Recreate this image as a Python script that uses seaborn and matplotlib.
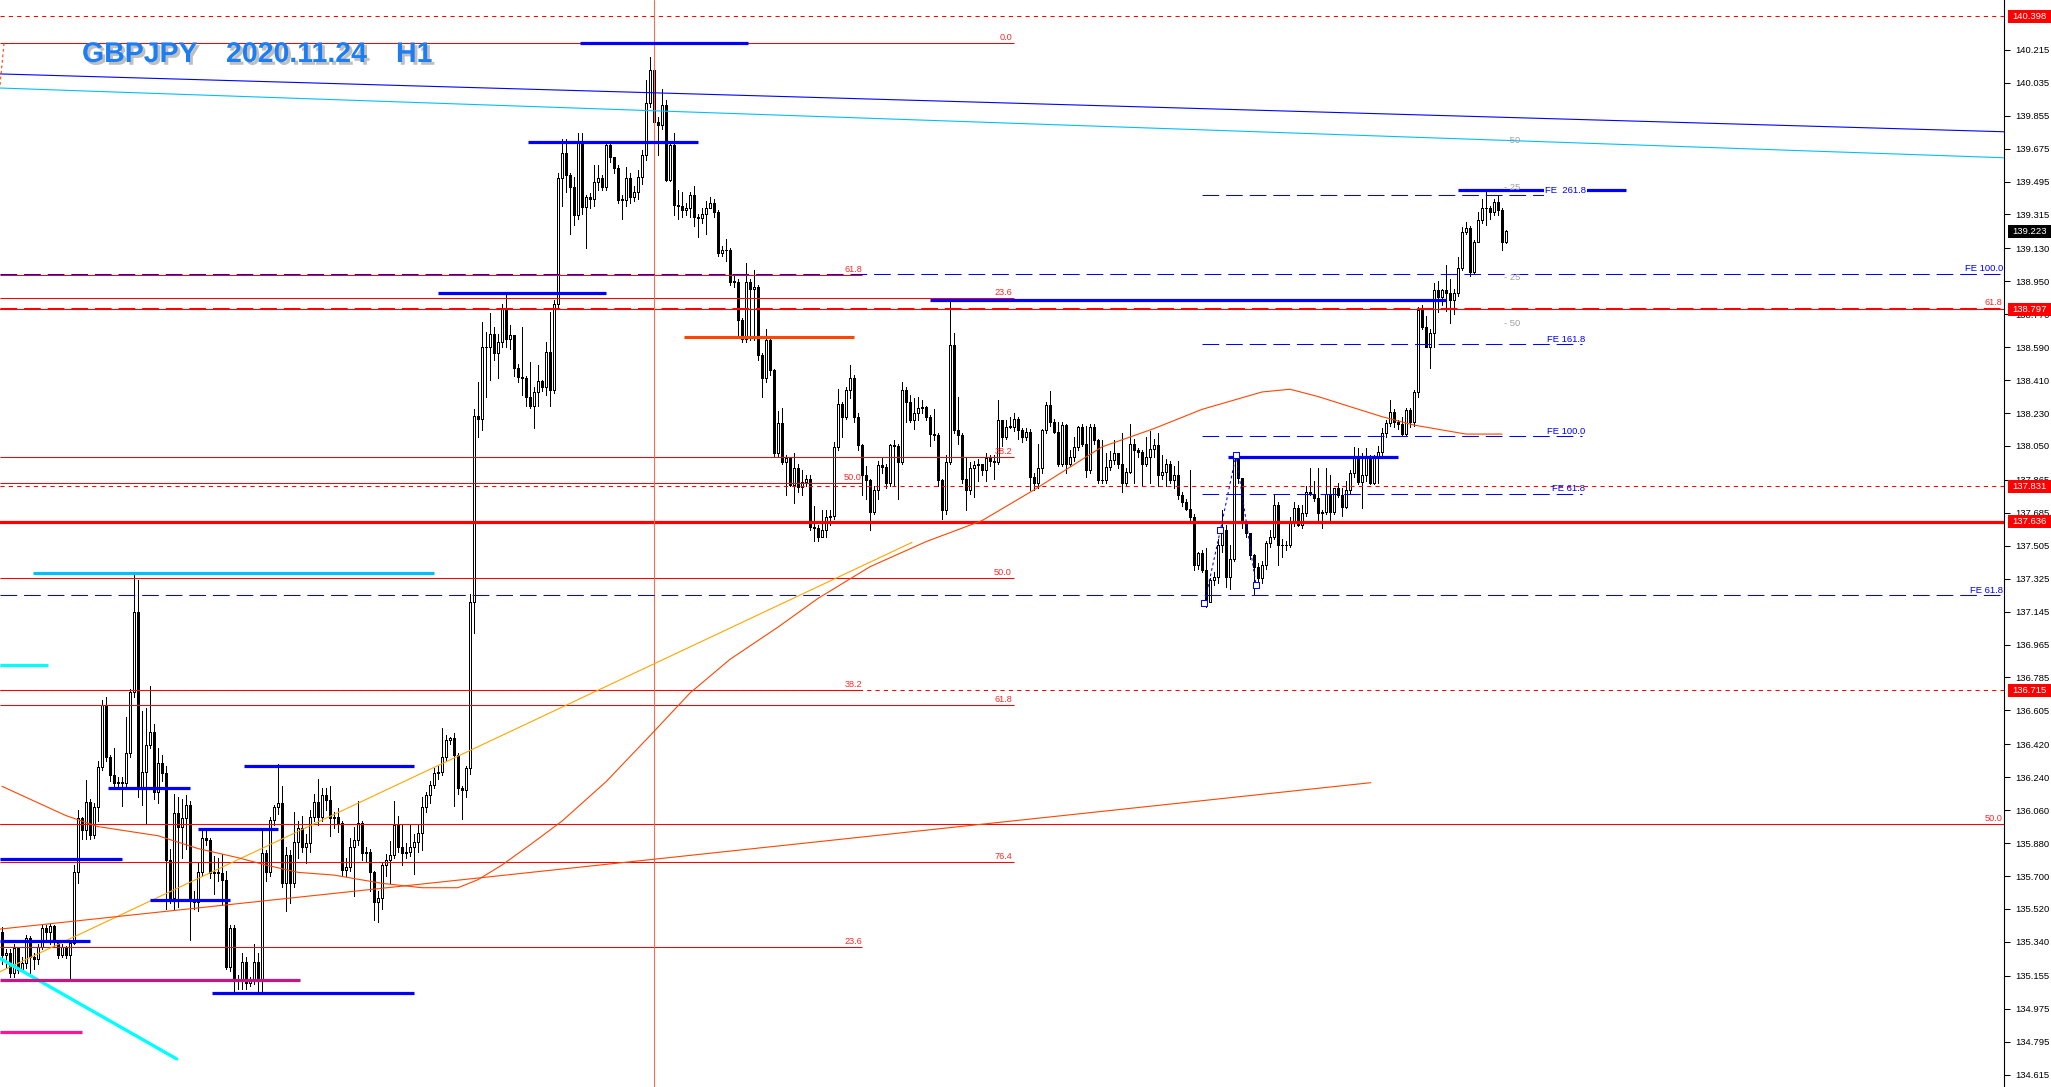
import numpy as np
import pandas as pd
import matplotlib
matplotlib.use('Agg')
import matplotlib.pyplot as plt
import matplotlib.patheffects as pe
from matplotlib.patches import Rectangle
from matplotlib.transforms import blended_transform_factory
import seaborn as sns

sns.set_style('white')
plt.rcParams['font.family'] = ['Liberation Sans', 'DejaVu Sans']
plt.rcParams['lines.scale_dashes'] = False

# --- candles (GBPJPY H1) ---
first_open = 135.395
closes = [
    135.268, 135.277, 135.168, 135.304, 135.186, 135.222, 135.359, 135.259, 135.244, 135.313,
    135.414, 135.395, 135.426, 135.341, 135.268, 135.313, 135.268, 135.332, 135.724, 136.015,
    135.951, 136.106, 135.924, 136.079, 136.297, 136.634, 136.352, 136.252, 136.206, 136.215,
    136.206, 136.370, 136.707, 137.144, 136.179, 136.270, 136.416, 136.489, 136.161, 136.316,
    136.261, 135.787, 135.578, 136.042, 135.970, 136.015, 136.088, 135.569, 135.560, 135.724,
    135.906, 135.897, 135.714, 135.724, 135.714, 135.678, 135.204, 135.414, 135.132, 135.135,
    135.232, 135.113, 135.132, 135.232, 135.132, 135.824, 135.724, 136.006, 136.079, 136.097,
    135.660, 135.815, 135.660, 135.888, 135.961, 135.860, 135.879, 136.024, 136.106, 136.024,
    136.143, 136.115, 136.015, 136.020, 135.988, 135.733, 135.751, 135.860, 135.897, 135.988,
    135.824, 135.833, 135.724, 135.560, 135.578, 135.760, 135.787, 135.815, 135.979, 135.860,
    135.824, 135.833, 135.860, 135.888, 135.934, 136.079, 136.143, 136.197, 136.261, 136.270,
    136.352, 136.443, 136.452, 136.361, 136.179, 136.170, 136.288, 137.199, 138.213, 138.200,
    138.590, 138.590, 138.660, 138.560, 138.618, 138.806, 138.637, 138.656, 138.476, 138.429,
    138.420, 138.316, 138.270, 138.345, 138.407, 138.373, 138.565, 138.354, 138.825, 139.512,
    139.649, 139.531, 139.467, 139.312, 139.713, 139.358, 139.412, 139.400, 139.494, 139.512,
    139.467, 139.695, 139.631, 139.567, 139.394, 139.394, 139.512, 139.412, 139.440, 139.522,
    139.640, 139.922, 140.104, 139.822, 139.804, 139.913, 139.503, 139.695, 139.367, 139.360,
    139.340, 139.350, 139.420, 139.303, 139.294, 139.320, 139.348, 139.376, 139.330, 139.103,
    139.120, 139.120, 138.947, 138.947, 138.737, 138.637, 138.947, 138.910, 138.920, 138.546,
    138.419, 138.628, 138.464, 138.009, 138.173, 137.963, 137.982, 137.836, 137.927, 137.827,
    137.854, 137.872, 137.608, 137.599, 137.553, 137.590, 137.663, 137.670, 138.045, 138.282,
    138.210, 138.355, 138.419, 138.209, 138.054, 137.890, 137.863, 137.690, 137.808, 137.945,
    137.936, 137.845, 138.054, 138.050, 137.963, 138.355, 138.291, 138.191, 138.228, 138.255,
    138.264, 138.209, 138.118, 138.110, 137.863, 137.699, 137.963, 138.600, 138.136, 138.110,
    137.872, 137.808, 137.927, 137.945, 137.954, 137.918, 137.982, 137.970, 137.964, 138.191,
    138.100, 138.155, 138.155, 138.200, 138.136, 138.100, 138.127, 137.881, 137.845, 137.927,
    138.136, 138.273, 138.182, 138.127, 137.954, 138.164, 137.954, 137.990, 138.045, 138.155,
    138.063, 137.918, 138.155, 138.082, 137.863, 137.864, 137.936, 137.972, 138.009, 137.954,
    137.845, 137.908, 138.063, 138.027, 138.018, 137.954, 137.990, 138.036, 138.054, 137.891,
    137.909, 137.954, 137.863, 137.891, 137.781, 137.745, 137.708, 137.663, 137.399, 137.463,
    137.372, 137.200, 137.317, 137.335, 137.508, 137.590, 137.335, 137.435, 137.982, 137.873,
    137.627, 137.572, 137.454, 137.390, 137.326, 137.400, 137.517, 137.554, 137.727, 137.508,
    137.508, 137.508, 137.627, 137.709, 137.618, 137.681, 137.800, 137.790, 137.763, 137.681,
    137.690, 137.790, 137.690, 137.818, 137.782, 137.718, 137.809, 137.900, 137.991, 137.854,
    137.890, 137.990, 137.850, 137.990, 138.018, 138.119, 138.173, 138.237, 138.182, 138.172,
    138.118, 138.246, 138.182, 138.346, 138.792, 138.701, 138.592, 138.665, 138.902, 138.865,
    138.902, 138.884, 138.847, 138.884, 139.020, 139.220, 139.239, 139.002, 139.166, 139.284,
    139.348, 139.348, 139.330, 139.384, 139.339, 139.166, 139.223,
]
highs = [
    135.42, 135.30, 135.30, 135.33, 135.31, 135.26, 135.38, 135.37, 135.28, 135.33,
    135.43, 135.43, 135.44, 135.43, 135.35, 135.33, 135.32, 135.35, 135.76, 136.06,
    136.02, 136.225, 136.12, 136.10, 136.33, 136.66, 136.68, 136.36, 136.40, 136.24,
    136.24, 136.57, 136.72, 137.363, 137.317, 136.60, 136.62, 136.74, 136.53, 136.40,
    136.36, 136.30, 135.85, 136.15, 136.13, 136.12, 136.14, 136.11, 135.62, 135.77,
    135.95, 135.95, 135.91, 135.81, 135.80, 135.82, 135.73, 135.43, 135.43, 135.16,
    135.28, 135.26, 135.15, 135.33, 135.28, 135.95, 135.84, 136.02, 136.09, 136.31,
    136.19, 135.86, 135.84, 136.05, 136.00, 136.03, 135.93, 136.06, 136.15, 136.23,
    136.18, 136.18, 136.19, 136.05, 136.07, 136.00, 135.80, 135.91, 135.97, 136.11,
    136.00, 135.86, 135.85, 135.73, 135.62, 135.77, 135.82, 135.89, 136.11, 136.03,
    135.98, 135.88, 135.98, 135.93, 135.98, 136.13, 136.16, 136.22, 136.29, 136.30,
    136.51, 136.47, 136.46, 136.48, 136.37, 136.19, 136.30, 137.24, 138.25, 138.40,
    138.73, 138.675, 138.778, 138.70, 138.66, 138.825, 138.891, 138.71, 138.61, 138.50,
    138.70, 138.43, 138.51, 138.37, 138.49, 138.41, 138.62, 138.78, 138.85, 139.54,
    139.73, 139.73, 139.54, 139.52, 139.76, 139.76, 139.42, 139.43, 139.585, 139.585,
    139.53, 139.713, 139.71, 139.63, 139.585, 139.42, 139.577, 139.54, 139.47, 139.56,
    139.667, 140.05, 140.177, 140.272, 139.85, 140.00, 139.94, 139.70, 139.76, 139.45,
    139.44, 139.38, 139.44, 139.47, 139.32, 139.35, 139.39, 139.41, 139.40, 139.34,
    139.14, 139.18, 139.13, 138.98, 138.96, 138.75, 139.05, 138.96, 139.01, 138.93,
    138.56, 138.69, 138.64, 138.47, 138.24, 138.26, 138.00, 137.91, 138.01, 137.95,
    137.92, 137.89, 137.89, 137.72, 137.62, 137.70, 137.70, 137.70, 138.07, 138.364,
    138.29, 138.37, 138.49, 138.44, 138.23, 138.06, 137.94, 137.87, 137.83, 137.97,
    137.99, 137.95, 138.06, 138.08, 138.06, 138.40, 138.37, 138.33, 138.31, 138.32,
    138.30, 138.27, 138.22, 138.25, 138.12, 137.87, 138.00, 138.847, 138.67, 138.32,
    138.12, 137.99, 137.96, 137.97, 137.98, 137.95, 138.01, 138.00, 138.00, 138.30,
    138.19, 138.19, 138.21, 138.23, 138.21, 138.15, 138.15, 138.14, 137.90, 138.06,
    138.14, 138.29, 138.35, 138.20, 138.18, 138.18, 138.17, 138.03, 138.10, 138.16,
    138.17, 138.16, 138.17, 138.17, 138.09, 138.08, 138.01, 138.02, 138.08, 138.01,
    138.12, 137.93, 138.17, 138.09, 138.04, 138.03, 138.10, 138.13, 138.09, 138.12,
    138.00, 137.98, 137.97, 137.94, 137.97, 137.80, 137.76, 137.92, 137.68, 137.47,
    137.48, 137.49, 137.33, 137.36, 137.54, 137.70, 137.62, 137.51, 138.00, 138.00,
    137.75, 137.64, 137.55, 137.46, 137.41, 137.42, 137.53, 137.59, 137.79, 137.745,
    137.54, 137.53, 137.66, 137.745, 137.73, 137.73, 137.83, 137.93, 137.86, 137.93,
    137.70, 137.93, 137.89, 137.82, 137.85, 137.82, 137.86, 137.92, 138.046, 138.04,
    138.01, 138.04, 138.00, 138.00, 138.05, 138.15, 138.19, 138.30, 138.25, 138.19,
    138.21, 138.255, 138.255, 138.355, 138.81, 138.82, 138.76, 138.69, 138.94, 138.95,
    138.91, 139.038, 138.96, 138.91, 139.08, 139.248, 139.275, 139.25, 139.175, 139.33,
    139.40, 139.452, 139.36, 139.40, 139.42, 139.35, 139.23,
]
lows = [
    135.22, 135.20, 135.15, 135.15, 135.17, 135.18, 135.20, 135.16, 135.19, 135.22,
    135.30, 135.34, 135.33, 135.32, 135.25, 135.26, 135.25, 135.14, 135.33, 135.66,
    135.90, 135.90, 135.90, 135.91, 136.00, 136.28, 136.33, 136.22, 136.19, 136.18,
    136.08, 136.19, 136.35, 136.68, 136.13, 136.09, 135.99, 136.40, 136.12, 136.10,
    136.22, 135.52, 135.55, 135.52, 135.53, 135.80, 135.85, 135.35, 135.52, 135.51,
    135.70, 135.87, 135.69, 135.60, 135.67, 135.54, 135.19, 135.18, 135.07, 135.08,
    135.08, 135.08, 135.10, 135.11, 135.07, 135.07, 135.67, 135.70, 135.98, 136.04,
    135.64, 135.51, 135.55, 135.64, 135.80, 135.83, 135.77, 135.83, 136.00, 135.98,
    136.00, 136.06, 135.92, 135.96, 135.94, 135.70, 135.70, 135.73, 135.59, 135.87,
    135.79, 135.78, 135.62, 135.46, 135.45, 135.52, 135.70, 135.66, 135.80, 135.83,
    135.76, 135.80, 135.81, 135.71, 135.83, 135.84, 136.05, 136.10, 136.18, 136.23,
    136.25, 136.33, 136.42, 136.08, 136.15, 136.01, 136.13, 136.26, 137.026, 138.10,
    138.137, 138.32, 138.41, 138.52, 138.42, 138.59, 138.59, 138.58, 138.43, 138.40,
    138.33, 138.27, 138.26, 138.147, 138.27, 138.35, 138.33, 138.27, 138.34, 138.80,
    139.36, 139.44, 139.21, 139.26, 139.29, 139.32, 139.13, 139.35, 139.36, 139.45,
    139.45, 139.45, 139.60, 139.54, 139.38, 139.29, 139.36, 139.38, 139.39, 139.40,
    139.48, 139.61, 139.90, 139.622, 139.64, 139.78, 139.50, 139.50, 139.31, 139.29,
    139.30, 139.31, 139.30, 139.25, 139.19, 139.27, 139.21, 139.35, 139.30, 139.09,
    139.09, 139.06, 138.93, 138.92, 138.64, 138.62, 138.62, 138.63, 138.63, 138.52,
    138.32, 138.40, 138.44, 137.99, 137.99, 137.95, 137.78, 137.83, 137.74, 137.80,
    137.78, 137.83, 137.59, 137.53, 137.53, 137.55, 137.55, 137.62, 137.65, 138.03,
    138.10, 138.20, 138.31, 138.18, 138.03, 137.78, 137.76, 137.59, 137.68, 137.76,
    137.90, 137.82, 137.83, 137.83, 137.76, 137.95, 138.18, 138.18, 138.14, 138.19,
    138.23, 138.19, 138.05, 138.08, 137.83, 137.65, 137.68, 137.95, 138.12, 138.06,
    137.85, 137.70, 137.79, 137.77, 137.86, 137.89, 137.86, 137.94, 137.87, 137.95,
    138.05, 138.09, 138.15, 138.13, 138.09, 138.07, 138.08, 137.81, 137.81, 137.82,
    137.90, 138.12, 138.16, 138.12, 137.94, 137.94, 137.90, 137.94, 137.97, 138.03,
    138.05, 137.88, 137.90, 138.06, 137.845, 137.85, 137.85, 137.92, 137.95, 137.93,
    137.80, 137.83, 137.90, 137.845, 137.99, 137.83, 137.94, 137.85, 137.99, 137.83,
    137.87, 137.83, 137.85, 137.82, 137.76, 137.72, 137.70, 137.64, 137.372, 137.38,
    137.36, 137.171, 137.20, 137.29, 137.30, 137.47, 137.28, 137.27, 137.42, 137.85,
    137.60, 137.55, 137.43, 137.235, 137.30, 137.30, 137.38, 137.50, 137.54, 137.40,
    137.445, 137.48, 137.50, 137.61, 137.61, 137.60, 137.67, 137.78, 137.75, 137.635,
    137.60, 137.68, 137.64, 137.68, 137.77, 137.67, 137.71, 137.79, 137.88, 137.84,
    137.71, 137.86, 137.84, 137.84, 137.85, 138.00, 138.10, 138.16, 138.155, 138.14,
    138.11, 138.11, 138.155, 138.16, 138.32, 138.69, 138.59, 138.474, 138.59, 138.78,
    138.82, 138.79, 138.72, 138.77, 138.87, 139.01, 139.21, 138.98, 138.99, 139.166,
    139.27, 139.26, 139.29, 139.31, 139.31, 139.12, 139.16,
]

# moving average (candle index, price)
ma_idx = [0, 16, 24, 39, 49, 59, 66, 74, 83, 95, 105, 114, 119, 125, 132, 140, 151, 163, 172,
          182, 194, 204, 217, 231, 245, 258, 275, 288, 300, 315, 322, 329, 345, 353, 366, 375]
ma_val = [136.19, 136.03, 135.97, 135.92, 135.85, 135.80, 135.76, 135.72, 135.705, 135.66,
          135.636, 135.636, 135.68, 135.76, 135.87, 136.0, 136.215, 136.49, 136.70, 136.884,
          137.06, 137.217, 137.39, 137.527, 137.642, 137.81, 138.045, 138.145, 138.25, 138.345,
          138.36, 138.32, 138.21, 138.164, 138.115, 138.115]

tick_vals = [140.215, 140.035, 139.855, 139.675, 139.495, 139.315, 139.130, 138.950, 138.770,
             138.590, 138.410, 138.230, 138.050, 137.865, 137.685, 137.505, 137.325, 137.145,
             136.965, 136.785, 136.605, 136.420, 136.240, 136.060, 135.880, 135.700, 135.520,
             135.340, 135.155, 134.975, 134.795, 134.615]

# horizontal price lines with label box on the axis
red_box_levels = [140.398, 138.797, 137.831, 137.636, 136.715]
last_price = 139.223

# fibonacci retracements: (price, label)
fib_a = [(140.25, '0.0'), (138.857, '23.6'), (137.99, '38.2'), (137.33, '50.0'),
         (136.634, '61.8'), (135.775, '76.4')]
fib_a_end = 253
fib_b = [(138.985, '61.8'), (137.85, '50.0'), (136.715, '38.2'), (135.311, '23.6')]
fib_b_end = 215
fib_c = [(138.805, '61.8'), (135.983, '50.0')]

# fibo expansions
fe_full = [(138.99, 'FE 100.0'), (137.235, 'FE 61.8')]
fe_part = [(138.605, 'FE 161.8'), (138.102, 'FE 100.0'), (137.79, 'FE 61.8')]
fe_part_top = 139.42
fe_part_span = (300, 395)

# thick blue support / resistance segments: (price, i0, i1)
blue_segs = [(140.25, 144.5, 186.5), (139.71, 131.5, 174), (138.885, 109, 151),
             (138.85, 232, 361), (139.448, 364, 406), (137.99, 306.5, 349),
             (136.30, 60.5, 103), (136.183, 26.5, 47), (135.959, 49, 69),
             (135.793, -0.5, 30), (135.57, 37, 57), (135.347, -0.5, 22), (135.063, 52.5, 103)]

grey_marks = [(139.72, '- 50'), (139.465, '- 25'), (138.97, '- 25'), (138.72, '- 50')]

abc_idx = [300.6, 304.6, 308.5, 313.5]
abc_val = [137.19, 137.59, 138.0, 137.29]

title_parts = ['GBPJPY', '2020.11.24', 'H1']

W, H = 2051, 1087
fig = plt.figure(figsize=(W / 100, H / 100), dpi=100)
fig.patch.set_facecolor('white')
ax = fig.add_axes([0, 0, 2004 / W, 1])
ax.set_facecolor('white')
X0, X1 = -0.5, 500.5
Y0, Y1 = 134.547, 140.487
ax.set_xlim(X0, X1)
ax.set_ylim(Y0, Y1)
PX = (Y1 - Y0) / H   # price per pixel

df = pd.DataFrame({'c': closes, 'h': highs, 'l': lows})
df['o'] = [first_open] + closes[:-1]
df['i'] = np.arange(len(df))
hi = np.maximum(df['h'], df[['o', 'c']].max(axis=1))
lo = np.minimum(df['l'], df[['o', 'c']].min(axis=1))
up = df['c'] >= df['o']

ax.vlines(df['i'], lo, hi, color='black', lw=0.72, antialiased=False, zorder=2)
bottom = df[['o', 'c']].min(axis=1)
height = np.maximum((df['c'] - df['o']).abs(), PX * 0.6)
ax.bar(df['i'], height, bottom=bottom, width=0.5, color=np.where(up, 'white', 'black'),
       edgecolor='black', linewidth=0.72, antialiased=False, zorder=2)

RED = '#FF0000'
ax.axhline(140.398, color=RED, lw=0.75, ls=(0, (3, 3)), zorder=3)
ax.axhline(138.797, color=RED, lw=0.8, zorder=3)
ax.axhline(137.831, color=RED, lw=0.75, ls=(0, (3, 3)), zorder=3)
ax.axhline(137.636, color=RED, lw=2.3, zorder=3)
ax.axhline(136.715, color=RED, lw=0.75, ls=(0, (3, 3)), zorder=3)

lab_kw = dict(fontsize=6.6, color='#FF2828', ha='right', va='bottom', zorder=7)
for p, t in fib_a:
    ax.hlines(p, X0, fib_a_end, color=RED, lw=0.75, zorder=3)
    ax.text(fib_a_end - 0.5, p + PX, t, **lab_kw)
for p, t in fib_b:
    ax.hlines(p, X0, fib_b_end, color=RED, lw=0.75, zorder=3)
    ax.text(fib_b_end, p + PX, t, **lab_kw)
ax.axhline(fib_c[0][0], color=RED, lw=0.75, ls=(0, (12, 5)), zorder=3)
ax.axhline(fib_c[1][0], color=RED, lw=0.75, zorder=3)
for p, t in fib_c:
    ax.text(X1 - 0.4, p + PX, t, **lab_kw)

# orange-red short level
ax.hlines(138.647, 170.5, 213, color='#FF4500', lw=2.2, zorder=3)

# vertical time marker
ax.axvline(163, color='#FF6A4D', lw=0.8, zorder=3)

# trend lines
ax.plot([X0, X1], [140.083, 139.767], color='#0000FF', lw=0.8, zorder=3)
ax.plot([X0, X1], [140.006, 139.625], color='#00BFFF', lw=0.8, zorder=3)
ax.plot([X0, 227.5], [135.177, 137.523], color='#FFA500', lw=0.8, zorder=3)
ax.plot([X0, 342.2], [135.41, 136.21], color='#FF4500', lw=0.8, zorder=3)
ax.plot([0.5, X0], [140.25, 140.02], color='#FF4500', lw=0.8, ls=(0, (2, 2)), zorder=3)
ax.plot([X0, 43.7], [135.25, 134.70], color='#00FFFF', lw=2.4, zorder=3)
sns.lineplot(x=ma_idx, y=ma_val, ax=ax, color='#FF4500', lw=0.8, estimator=None, zorder=3)

# thick horizontals
for p, a, b in blue_segs:
    ax.hlines(p, a, b, color='#0000FF', lw=2.3, zorder=4)
ax.hlines(137.357, 7.8, 108, color='#00BFFF', lw=2.3, zorder=4)
ax.hlines(136.855, X0, 11.5, color='#00FFFF', lw=2.3, zorder=4)
ax.hlines(135.132, X0, 74.5, color='#C71585', lw=2.3, zorder=4)
ax.hlines(134.85, X0, 20, color='#FF1493', lw=2.3, zorder=4)

# fibo expansion lines
BLUE = '#0000FF'
fe_kw = dict(fontsize=6.8, color=BLUE, ha='right', va='bottom', zorder=7)
for p, t in fe_full:
    ax.axhline(p, color=BLUE, lw=0.75, ls=(0, (12, 5)), zorder=3)
    ax.text(X1 - 0.3, p + PX * 0.5, t, **fe_kw)
s0, s1 = fe_part_span
for p, t in fe_part:
    ax.hlines(p, s0, s1, color=BLUE, lw=0.75, linestyles=[(0, (12, 5))], zorder=3)
    ax.text(s1 + 0.8, p + PX * 0.5, t, **fe_kw)
ax.hlines(fe_part_top, s0, s1, color=BLUE, lw=0.75, linestyles=[(0, (12, 5))], zorder=3)
ax.text(396, 139.448, 'FE  261.8', fontsize=6.8, color=BLUE, ha='right', va='center', zorder=7,
        bbox=dict(boxstyle='square,pad=0.1', fc='white', ec='none'))

for p, t in grey_marks:
    ax.text(375.5, p, t, fontsize=6.8, color='#A0A0A0', ha='left', va='center', zorder=7)

# ABC swing
ax.plot(abc_idx, abc_val, color=BLUE, lw=0.75, ls=(0, (2, 2)), zorder=4)
ax.scatter(abc_idx, abc_val, s=14, marker='s', facecolor='white', edgecolor=BLUE, lw=0.75, zorder=5)

# right price axis
for s in ['left', 'top', 'bottom']:
    ax.spines[s].set_visible(False)
ax.spines['right'].set_color('black')
ax.spines['right'].set_linewidth(0.8)
ax.set_xticks([])
ax.yaxis.tick_right()
ax.set_yticks(tick_vals)
ax.set_yticklabels([f'{v:.3f}' for v in tick_vals])
ax.tick_params(axis='y', direction='out', length=4, width=0.75, pad=4, labelsize=6.8,
               colors='black')

tr = blended_transform_factory(ax.transAxes, ax.transData)
for p, fc in [(v, RED) for v in red_box_levels] + [(last_price, 'black')]:
    ax.add_patch(Rectangle((1 + 4 / 2004, p - 6.5 * PX), 46 / 2004, 13 * PX, transform=tr,
                           facecolor=fc, edgecolor='none', clip_on=False, zorder=8))
    ax.text(1 + 8 / 2004, p, f'{p:.3f}', transform=tr, color='white', fontsize=6.8,
            ha='left', va='center', clip_on=False, zorder=9)

# title
shadow = [pe.SimplePatchShadow(offset=(2, -2), shadow_rgbFace='#808080', alpha=0.5), pe.Normal()]
for x, t in zip([82, 226, 396], title_parts):
    ax.text(x / 2004, 1 - 62 / H, t, transform=ax.transAxes, fontsize=20.5, fontweight='bold',
            color='#1C7EF2', ha='left', va='baseline', zorder=9, path_effects=shadow)

fig.savefig('out.png', dpi=100)
